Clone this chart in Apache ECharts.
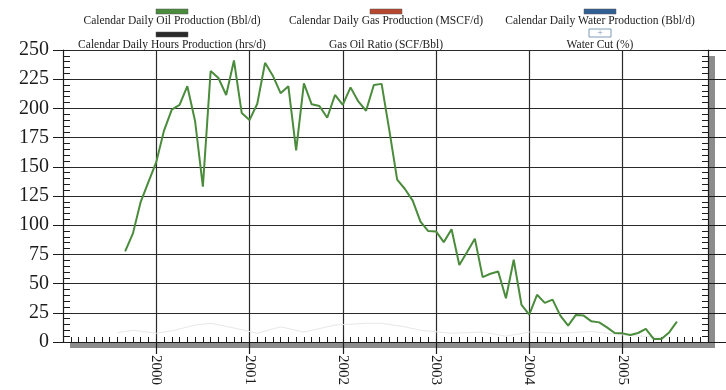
<!DOCTYPE html>
<html>
<head>
<meta charset="utf-8">
<script src="https://cdn.jsdelivr.net/npm/echarts@6/dist/echarts.min.js"></script>
<style>
  html, body { margin: 0; padding: 0; background: #fff; }
  #chart { width: 726px; height: 390px; }
</style>
</head>
<body>
<div id="chart"></div>
<script>
// Monthly production history
const months = [
  '1999-09','1999-10','1999-11','1999-12',
  '2000-01','2000-02','2000-03','2000-04','2000-05','2000-06','2000-07','2000-08','2000-09','2000-10','2000-11','2000-12',
  '2001-01','2001-02','2001-03','2001-04','2001-05','2001-06','2001-07','2001-08','2001-09','2001-10','2001-11','2001-12',
  '2002-01','2002-02','2002-03','2002-04','2002-05','2002-06','2002-07','2002-08','2002-09','2002-10','2002-11','2002-12',
  '2003-01','2003-02','2003-03','2003-04','2003-05','2003-06','2003-07','2003-08','2003-09','2003-10','2003-11','2003-12',
  '2004-01','2004-02','2004-03','2004-04','2004-05','2004-06','2004-07','2004-08','2004-09','2004-10','2004-11','2004-12',
  '2005-01','2005-02','2005-03','2005-04','2005-05','2005-06','2005-07','2005-08'
];
const oilRate = [
  77.5, 93, 120, 137,
  154, 181, 199, 203, 219, 189, 133, 232, 226, 211.5, 241, 196,
  190, 204, 239, 228, 213, 219, 164, 221.5, 203.5, 202, 192, 211.5,
  203, 218, 206, 198, 220, 221, 181, 139, 131, 121, 103, 95,
  94.7, 85.5, 96.5, 66, 77, 88.5, 55.5, 58.4, 60.4, 37.5, 70.4, 31.8,
  23.4, 40.4, 33.5, 36.3, 22.6, 14, 23.2, 22.6, 17.7, 16.8, 12.5, 7.7,
  7.4, 6, 7.7, 11.2, 2.6, 2.6, 8.2, 17.4
];
// faint water-cut trace
const waterCutMonths = [
  '1999-08','1999-10','2000-01','2000-03','2000-06','2000-08','2000-11','2001-02','2001-05','2001-08',
  '2001-12','2002-04','2002-06','2002-09','2002-11','2003-03','2003-07','2003-10','2004-01','2004-05',
  '2004-09','2005-01','2005-06'
];
const waterCutPct = [
  8, 10, 7.5, 9.5, 14.5, 16, 12, 7.5, 13, 8.5,
  14.5, 16, 16, 13, 10, 7.5, 8.5, 5, 8.5, 7.5,
  9, 6, 4
];
const axisStartYear = 1999;
const axisMonths = 83;            // Jan 1999 .. Dec 2005
const yearTickMonths = [12, 24, 36, 48, 60, 72];
const rateMax = 250;

const legendItems = [
  { label: 'Calendar Daily Oil Production (Bbl/d)',   color: '#4a8b3c', icon: 'bar' },
  { label: 'Calendar Daily Gas Production (MSCF/d)',  color: '#b8472f', icon: 'bar' },
  { label: 'Calendar Daily Water Production (Bbl/d)', color: '#2f5f94', icon: 'bar' },
  { label: 'Calendar Daily Hours Production (hrs/d)', color: '#2a2a2a', icon: 'bar' },
  { label: 'Gas Oil Ratio (SCF/Bbl)',                 color: null,      icon: 'none' },
  { label: 'Water Cut (%)',                           color: '#7f9cb8', icon: 'plus' }
];

function monthIndex(s) {
  const [y, m] = s.split('-').map(Number);
  return (y - axisStartYear) * 12 + (m - 1);
}

const serif = '"Liberation Serif", "Times New Roman", serif';
const ink = '#1c1c1c';

// legend drawn as icon-over-text pairs, three per row
const legendCols = [172, 386, 600];
const legendRows = [{ iconY: 9, textY: 21 }, { iconY: 32, textY: 45 }];
const legendGraphics = [];
legendItems.forEach((it, i) => {
  const cx = legendCols[i % 3];
  const row = legendRows[Math.floor(i / 3)];
  if (it.icon === 'bar') {
    legendGraphics.push({
      type: 'rect', shape: { x: cx - 16, y: row.iconY, width: 32, height: 5 },
      style: { fill: it.color, stroke: '#555', lineWidth: 0.5 }
    });
  } else if (it.icon === 'plus') {
    legendGraphics.push({
      type: 'rect', shape: { x: cx - 11, y: row.iconY - 3, width: 22, height: 8 },
      style: { fill: '#fff', stroke: it.color, lineWidth: 1 }
    });
    legendGraphics.push({
      type: 'text',
      style: { text: '+', x: cx, y: row.iconY + 1, align: 'center', verticalAlign: 'middle',
               font: '10px ' + serif, fill: it.color }
    });
  }
  legendGraphics.push({
    type: 'text',
    style: { text: it.label, x: cx, y: row.textY, align: 'center', verticalAlign: 'middle',
             font: '11.5px ' + serif, fill: ink }
  });
});

const chart = echarts.init(document.getElementById('chart'), null, { renderer: 'canvas' });

const gridLine = { show: true, lineStyle: { color: '#2a2a2a', width: 1.2 } };

chart.setOption({
  animation: false,
  backgroundColor: '#fff',
  grid: {
    left: 63, right: 18, top: 50, bottom: 48,
    // white plot panel with a flat drop shadow; the frame comes from the axis lines
    show: true, backgroundColor: '#fff', borderWidth: 0,
    shadowColor: '#8c8c8c', shadowOffsetX: 7, shadowOffsetY: 6, shadowBlur: 0
  },
  xAxis: [
    {
      type: 'value', min: 0, max: axisMonths, interval: 12, position: 'bottom',
      axisLine: { show: true, lineStyle: { color: ink, width: 1.2 } },
      axisTick: { show: true, inside: false, length: 12, customValues: yearTickMonths,
                  lineStyle: { color: ink, width: 1.2 } },
      axisLabel: {
        show: true, rotate: -90, margin: 13, fontSize: 15, fontFamily: serif, color: ink,
        customValues: yearTickMonths,
        formatter: v => String(axisStartYear + v / 12)
      },
      splitLine: gridLine
    },
    {
      type: 'value', min: 0, max: axisMonths, interval: 1, position: 'bottom',
      axisLine: { show: false },
      axisTick: { show: true, inside: true, length: 5, lineStyle: { color: ink, width: 1 } },
      axisLabel: { show: false },
      splitLine: { show: false }
    }
  ],
  yAxis: [
    {
      type: 'value', min: 0, max: rateMax, interval: 25, position: 'left',
      axisLine: { show: true, lineStyle: { color: ink, width: 1.2 } },
      axisTick: { show: true, inside: false, length: 10, lineStyle: { color: ink } },
      axisLabel: { margin: 14, fontSize: 20, fontFamily: serif, color: ink },
      splitLine: gridLine
    },
    {
      type: 'value', min: 0, max: rateMax, interval: 5, position: 'left',
      axisLine: { show: false },
      axisTick: { show: true, inside: true, length: 7, lineStyle: { color: ink } },
      axisLabel: { show: false }, splitLine: { show: false }
    },
    {
      type: 'value', min: 0, max: rateMax, interval: 25, position: 'right',
      axisLine: { show: true, lineStyle: { color: ink, width: 1.2 } },
      axisTick: { show: true, inside: false, length: 18, lineStyle: { color: ink } },
      axisLabel: { show: false }, splitLine: { show: false }
    },
    {
      type: 'value', min: 0, max: rateMax, interval: 5, position: 'right',
      axisLine: { show: false },
      axisTick: { show: true, inside: true, length: 6, lineStyle: { color: ink } },
      axisLabel: { show: false }, splitLine: { show: false }
    }
  ],
  graphic: legendGraphics,
  series: [
    {
      name: 'Water Cut (%)', type: 'line', xAxisIndex: 0, yAxisIndex: 0,
      data: waterCutMonths.map((m, i) => [monthIndex(m), waterCutPct[i]]),
      symbol: 'none', smooth: false,
      lineStyle: { color: '#e8e8e8', width: 1 }, z: 1
    },
    {
      name: 'Calendar Daily Oil Production (Bbl/d)', type: 'line', xAxisIndex: 0, yAxisIndex: 0,
      data: months.map((m, i) => [monthIndex(m), oilRate[i]]),
      symbol: 'none', smooth: false,
      lineStyle: { color: '#4a8b3c', width: 2 }, z: 3
    }
  ]
});
</script>
</body>
</html>
